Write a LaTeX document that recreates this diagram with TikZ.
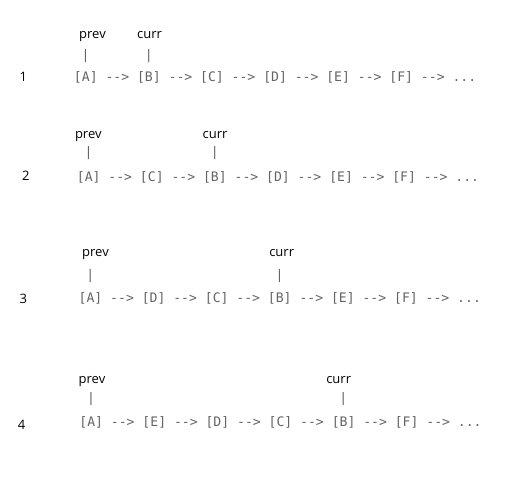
\documentclass[tikz,border=0pt]{standalone}
\usepackage{fontspec}
\setmainfont{Open Sans}
\setmonofont{DejaVu Sans Mono}
\usetikzlibrary{calc}
\definecolor{seqgray}{RGB}{100,100,100}
\tikzset{
  seq/.style={anchor=base west, inner sep=0pt, font=\ttfamily\fontsize{13.1}{15}\selectfont, text=seqgray},
  pipe/.style={anchor=base, inner sep=0pt, font=\ttfamily\fontsize{13.1}{15}\selectfont, text=seqgray},
  ptr/.style={anchor=base, inner sep=0pt, font=\fontsize{13}{15}\selectfont, text=black},
  num/.style={anchor=base, inner sep=0pt, font=\fontsize{13}{15}\selectfont, text=black},
}
\begin{document}
\begin{tikzpicture}[x=1pt,y=-1pt]
\useasboundingbox (0,0) rectangle (507,484);
\def\cw{7.886}
% row 1
\node[num] (n1) at (23.3,81.7) {1};
\node[seq] (s1) at (73.8,81.5) {[A] --> [B] --> [C] --> [D] --> [E] --> [F] --> ...};
\node[pipe] (q1a) at ($(s1.base west)+({1.5*\cw},-22.3)$) {|};
\node[pipe] (q1b) at ($(s1.base west)+({9.5*\cw},-22.3)$) {|};
\node[ptr] (p1) at (92.5,38.3) {prev};
\node[ptr] (c1) at (149.5,38.3) {curr};
% row 2
\node[num] (n2) at (25.8,180.7) {2};
\node[seq] (s2) at (76.7,181.5) {[A] --> [C] --> [B] --> [D] --> [E] --> [F] --> ...};
\node[pipe] (q2a) at ($(s2.base west)+({1.5*\cw},-24.5)$) {|};
\node[pipe] (q2b) at ($(s2.base west)+({17.5*\cw},-24.5)$) {|};
\node[ptr] (p2) at (88.3,138.3) {prev};
\node[ptr] (c2) at (215,138.3) {curr};
% row 3
\node[num] (n3) at (23.3,303.3) {3};
\node[seq] (s3) at (78.5,303.0) {[A] --> [D] --> [C] --> [B] --> [E] --> [F] --> ...};
\node[pipe] (q3a) at ($(s3.base west)+({1.5*\cw},-23)$) {|};
\node[pipe] (q3b) at ($(s3.base west)+({25.5*\cw},-23)$) {|};
\node[ptr] (p3) at (95.5,256.7) {prev};
\node[ptr] (c3) at (281.7,256.7) {curr};
% row 4
\node[num] (n4) at (21.7,429) {4};
\node[seq] (s4) at (79.2,427.0) {[A] --> [E] --> [D] --> [C] --> [B] --> [F] --> ...};
\node[pipe] (q4a) at ($(s4.base west)+({1.5*\cw},-24.7)$) {|};
\node[pipe] (q4b) at ($(s4.base west)+({33.5*\cw},-24.7)$) {|};
\node[ptr] (p4) at (92,383.3) {prev};
\node[ptr] (c4) at (338.7,383.3) {curr};
\end{tikzpicture}
\end{document}
